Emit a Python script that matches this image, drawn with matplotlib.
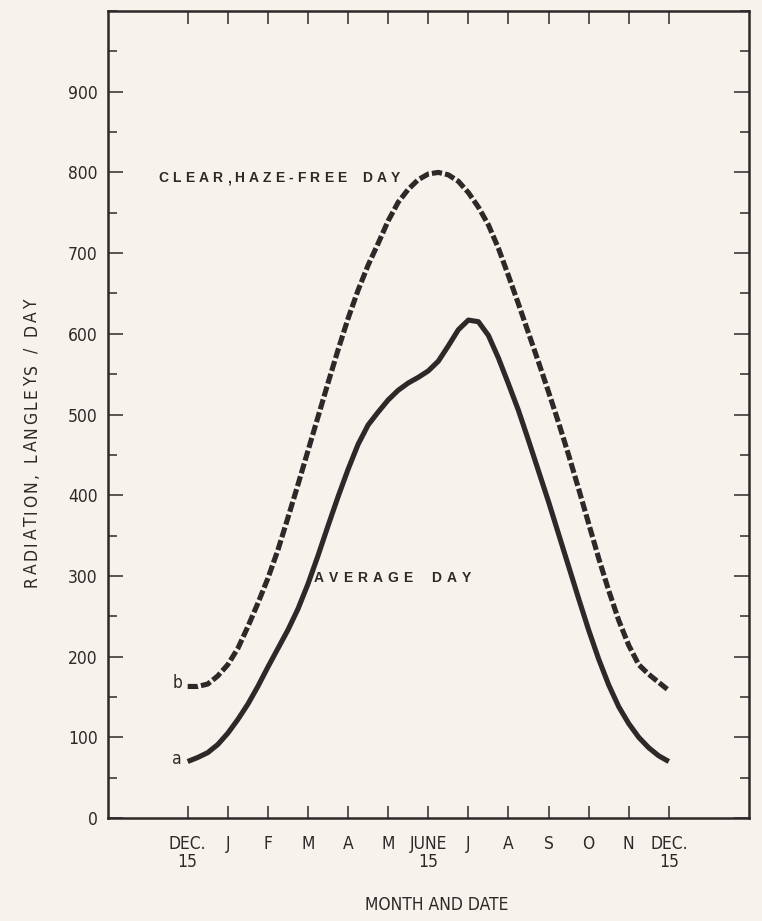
import matplotlib
matplotlib.use("Agg")
import matplotlib.pyplot as plt
from matplotlib import font_manager as fm
from matplotlib.ticker import MultipleLocator
from matplotlib.transforms import offset_copy

# Month positions (0 = Dec 15, 6 = June 15, 12 = Dec 15)
month_pos = list(range(13))
month_labels = ["DEC.\n15", "J", "F", "M", "A", "M", "JUNE\n15", "J", "A", "S", "O", "N", "DEC.\n15"]

# Sampling positions for the two curves (months after Dec 15)
months = [i * 0.25 for i in range(49)]

# b: clear, haze-free day (langleys / day)
clear_day = [163, 163, 166, 176, 190, 210, 237, 266, 297, 332, 372, 413, 455,
             497, 539, 580, 619, 654, 685, 712, 740, 763, 779, 791, 798, 800,
             797, 789, 775, 757, 735, 706, 672, 637, 601, 565, 528, 490, 450,
             408, 365, 322, 282, 245, 214, 190, 178, 168, 158]

# a: average day (langleys / day)
average_day = [70, 75, 81, 91, 105, 122, 141, 163, 187, 210, 233, 259, 290,
               325, 362, 398, 432, 463, 487, 503, 518, 530, 539, 546, 554, 566,
               585, 605, 617, 615, 598, 570, 538, 505, 468, 430, 392, 352, 312,
               272, 233, 197, 165, 138, 117, 100, 87, 77, 70]

INK = "#2f2828"
BG = "#f6f3ed"


def pick_narrow_font():
    """Return (FontProperties, size) for a condensed sans, best match first."""
    fonts = fm.fontManager.ttflist

    def regular(f):
        return f.style == "normal" and f.weight in (400, "normal", "regular", "book")

    prefs = [
        (lambda f: f.name == "Liberation Sans Narrow" and regular(f), 15),
        (lambda f: f.name == "DejaVu Sans" and "condensed" in str(f.stretch) and regular(f), 12.5),
        (lambda f: "Condensed" in f.name and regular(f), 13.5),
        (lambda f: "Narrow" in f.name and regular(f), 14),
    ]
    for test, size in prefs:
        for f in fonts:
            if test(f):
                return fm.FontProperties(fname=f.fname), size
    return fm.FontProperties(family=["Roboto", "DejaVu Sans"]), 13


narrow_fp, label_size = pick_narrow_font()


def label_font(size=None):
    fp = narrow_fp.copy()
    fp.set_size(size or label_size)
    return fp


fig = plt.figure(figsize=(7.62, 9.21), dpi=100, facecolor=BG)
ax = fig.add_axes([107.5 / 762, 1 - 818 / 921, (749 - 107.5) / 762, (818 - 11) / 921])
ax.set_facecolor(BG)

ax.plot(months, average_day, color=INK, lw=3.7, solid_capstyle="butt",
        solid_joinstyle="round")
ax.plot(months, clear_day, color=INK, lw=3.7, dashes=(2.0, 0.6),
        dash_capstyle="butt")

ax.set_xlim(-2, 14)
ax.set_ylim(0, 1000)

ax.set_xticks(month_pos)
ax.set_xticklabels(month_labels, color=INK, linespacing=1.05)
ax.set_yticks(range(0, 1000, 100))
ax.set_yticklabels([str(v) for v in range(0, 1000, 100)], color=INK)
for lab in ax.get_xticklabels() + ax.get_yticklabels():
    lab.set_fontproperties(label_font())
ax.yaxis.set_minor_locator(MultipleLocator(50))

ax.tick_params(axis="x", direction="in", top=True, bottom=True, length=9,
               width=1.1, color=INK, pad=12)
ax.tick_params(axis="y", which="major", direction="in", left=True, right=True,
               length=11, width=1.1, color=INK, pad=7)
ax.tick_params(axis="y", which="minor", direction="in", left=True, right=True,
               length=6.5, width=1.1, color=INK)

for s in ax.spines.values():
    s.set_linewidth(1.8)
    s.set_color(INK)

renderer = fig.canvas.get_renderer()


def spaced_caption(x, y, text, gap_px, word_px, **kw):
    """Draw text letter by letter on a common baseline with extra tracking."""
    offset = 0.0
    for ch in text:
        if ch == " ":
            offset += word_px
            continue
        tr = offset_copy(ax.transData, x=offset, y=0, units="dots")
        t = ax.text(x, y, ch, transform=tr, va="baseline", ha="left", **kw)
        offset += t.get_window_extent(renderer).width + gap_px


def spaced_vertical(xpx, ypx_center, text, gap_px, word_px, fp):
    """Label rotated 90 degrees, glyph by glyph on one baseline, centred on a pixel row."""
    advances = []
    for ch in text:
        if ch == " ":
            advances.append(word_px)
            continue
        probe = fig.text(0, 0, ch, fontproperties=fp)
        advances.append(probe.get_window_extent(renderer).width + gap_px)
        probe.remove()
    total = sum(advances) - gap_px
    y = (921 - ypx_center) - total / 2
    for ch, adv in zip(text, advances):
        if ch != " ":
            fig.text(xpx / 762, y / 921, ch, rotation=90, rotation_mode="anchor",
                     ha="left", va="baseline", fontproperties=fp, color=INK)
        y += adv


cap_kw = dict(family=["Liberation Sans", "DejaVu Sans"], fontweight="bold",
              fontsize=10, color=INK)
spaced_caption(-0.73, 788, "CLEAR,HAZE-FREE DAY", 4.1, 12, **cap_kw)
spaced_caption(3.15, 292, "AVERAGE DAY", 5.0, 14, **cap_kw)

ax.text(-0.26, 167, "b", color=INK, va="center", ha="center",
        fontproperties=label_font())
ax.text(-0.26, 73, "a", color=INK, va="center", ha="center",
        fontproperties=label_font())

spaced_vertical(37, 443, "RADIATION, LANGLEYS / DAY", 2.4, 9, label_font())
fig.text(437 / 762, 1 - 905 / 921, "MONTH AND DATE", color=INK,
         va="center", ha="center", fontproperties=label_font())

fig.savefig("out.png", dpi=100, facecolor=BG)
